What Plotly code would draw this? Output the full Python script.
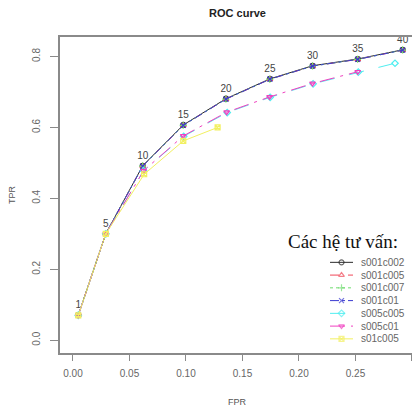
import plotly.graph_objects as go

# ---------------- data ----------------
n_labels = ["1", "5", "10", "15", "20", "25", "30", "35", "40"]

series_names = ["s001c002", "s001c005", "s001c007", "s001c01", "s005c005", "s005c01", "s01c005"]

fpr_s001c002 = [0.0047, 0.0290, 0.0617, 0.0976, 0.1354, 0.1743, 0.2121, 0.2520, 0.2918]
tpr_s001c002 = [0.071, 0.300, 0.492, 0.607, 0.681, 0.737, 0.774, 0.793, 0.819]

fpr_s001c005 = [0.0047, 0.0290, 0.0617, 0.0976, 0.1354, 0.1743, 0.2121, 0.2520, 0.2918]
tpr_s001c005 = [0.071, 0.300, 0.491, 0.606, 0.680, 0.736, 0.773, 0.792, 0.818]

fpr_s001c007 = [0.0047, 0.0290, 0.0616, 0.0975, 0.1353, 0.1742, 0.2120, 0.2519, 0.2917]
tpr_s001c007 = [0.071, 0.300, 0.491, 0.606, 0.680, 0.736, 0.773, 0.792, 0.818]

fpr_s001c01 = [0.0047, 0.0290, 0.0617, 0.0976, 0.1354, 0.1743, 0.2121, 0.2520, 0.2918]
tpr_s001c01 = [0.070, 0.300, 0.491, 0.606, 0.680, 0.736, 0.773, 0.792, 0.818]

fpr_s005c005 = [0.0047, 0.0290, 0.0625, 0.0980, 0.1365, 0.1745, 0.2125, 0.2525, 0.2850]
tpr_s005c005 = [0.070, 0.300, 0.478, 0.575, 0.642, 0.685, 0.723, 0.756, 0.781]

fpr_s005c01 = [0.0047, 0.0290, 0.0625, 0.0976, 0.1360, 0.1740, 0.2120, 0.2520]
tpr_s005c01 = [0.070, 0.300, 0.478, 0.576, 0.643, 0.686, 0.724, 0.757]

fpr_s01c005 = [0.0047, 0.0290, 0.0630, 0.0976, 0.1280]
tpr_s01c005 = [0.070, 0.300, 0.468, 0.562, 0.600]

x_ticks = [0.00, 0.05, 0.10, 0.15, 0.20, 0.25, 0.30]
x_tick_text = ["0.00", "0.05", "0.10", "0.15", "0.20", "0.25", "0.30"]
y_ticks = [0.0, 0.2, 0.4, 0.6, 0.8]
y_tick_text = ["0.0", "0.2", "0.4", "0.6", "0.8"]

# ---------------- styles ----------------
fprs = [fpr_s001c002, fpr_s001c005, fpr_s001c007, fpr_s001c01, fpr_s005c005, fpr_s005c01, fpr_s01c005]
tprs = [tpr_s001c002, tpr_s001c005, tpr_s001c007, tpr_s001c01, tpr_s005c005, tpr_s005c01, tpr_s01c005]
colors = ["#2a2a2a", "#f04858", "#70dc70", "#3a3ad0", "#50eef0", "#f040c0", "#f2f060"]
dashes = ["solid", "dash", "dot", "dashdot", "longdash", "longdashdot", "solid"]
symbols = ["circle-open", "triangle-up-open", "cross-thin-open", "x-thin-open",
           "diamond-open", "triangle-down-open", "square-x-open"]

fig = go.Figure()

for i, name in enumerate(series_names):
    kw = {}
    mode = "lines+markers"
    if i == 0:
        mode = "lines+markers+text"
        kw = dict(text=n_labels[:len(fprs[i])], textposition="top center",
                  textfont=dict(family="Liberation Sans, Arial", size=10, color="#444444"))
    fig.add_trace(go.Scatter(
        x=fprs[i], y=tprs[i], mode=mode, name=name, showlegend=False, cliponaxis=False,
        line=dict(color=colors[i], width=1, dash=dashes[i]),
        marker=dict(symbol=symbols[i], size=5, color=colors[i], line=dict(color=colors[i], width=1.2)),
        xaxis="x", yaxis="y", **kw))

# manual legend (compact, R-style) on a separate small axis pair
for i, name in enumerate(series_names):
    fig.add_trace(go.Scatter(
        x=[0, 0.5, 1], y=[i, i, i], mode="lines+markers", showlegend=False, hoverinfo="skip",
        line=dict(color=colors[i], width=1, dash=dashes[i]),
        marker=dict(symbol=symbols[i], size=[0, 5, 0], color=colors[i], line=dict(color=colors[i], width=1.2)),
        xaxis="x2", yaxis="y2"))
    fig.add_annotation(x=1, y=i, xref="x2", yref="y2", text=name, showarrow=False,
                       xanchor="left", yanchor="middle", xshift=6,
                       font=dict(family="Liberation Sans, Arial", size=10, color="#666666"))

fig.add_annotation(x=0.958, y=0.352, xref="paper", yref="paper", text="Các hệ tư vấn:",
                   showarrow=False, xanchor="right", yanchor="middle",
                   font=dict(family="Liberation Serif, Times New Roman", size=19, color="#111111"))

# axis titles
fig.add_annotation(x=0.5, y=-0.154, xref="paper", yref="paper", text="FPR", showarrow=False,
                   xanchor="center", yanchor="middle",
                   font=dict(family="Liberation Sans, Arial", size=9, color="#555555"))
fig.add_annotation(x=-0.135, y=0.5, xref="paper", yref="paper", text="TPR", showarrow=False,
                   textangle=-90, xanchor="center", yanchor="middle",
                   font=dict(family="Liberation Sans, Arial", size=9, color="#555555"))

axis_font = dict(family="Liberation Sans, Arial", size=10, color="#666666")

# the page body adds an 8px margin, so the figure is 8px smaller on each axis
fig.update_layout(
    width=412, height=401,
    margin=dict(l=52, r=5, t=29, b=56, autoexpand=False),
    paper_bgcolor="white", plot_bgcolor="white",
    title=dict(text="<b>ROC curve</b>", x=0.5, xref="paper", xanchor="center",
               y=1 - 5 / 401, yanchor="middle",
               font=dict(family="Liberation Sans, Arial", size=11, color="#222222")),
    xaxis=dict(range=[-0.0115, 0.3027], tickvals=x_ticks, ticktext=x_tick_text,
               showline=True, linecolor="#8a8a8a", linewidth=1.5, mirror=True,
               ticks="outside", ticklen=6, tickcolor="#8a8a8a", tickwidth=1, automargin=False,
               showgrid=False, zeroline=False, tickfont=axis_font, ticklabelstandoff=4),
    yaxis=dict(range=[-0.036, 0.855], tickvals=y_ticks, ticktext=y_tick_text,
               showline=True, linecolor="#8a8a8a", linewidth=1.5, mirror=True,
               ticks="outside", ticklen=8, tickcolor="#8a8a8a", tickwidth=1, tickangle=-90,
               automargin=False,
               showgrid=False, zeroline=False, tickfont=axis_font, ticklabelstandoff=6),
    xaxis2=dict(domain=[0.7606, 0.8254], range=[0, 1], visible=False, anchor="y2",
                fixedrange=True, automargin=False),
    yaxis2=dict(domain=[0.0246, 0.3071], range=[6.5, -0.5], visible=False, anchor="x2",
                fixedrange=True, automargin=False),
    showlegend=False,
)

fig.write_html("out.html")
